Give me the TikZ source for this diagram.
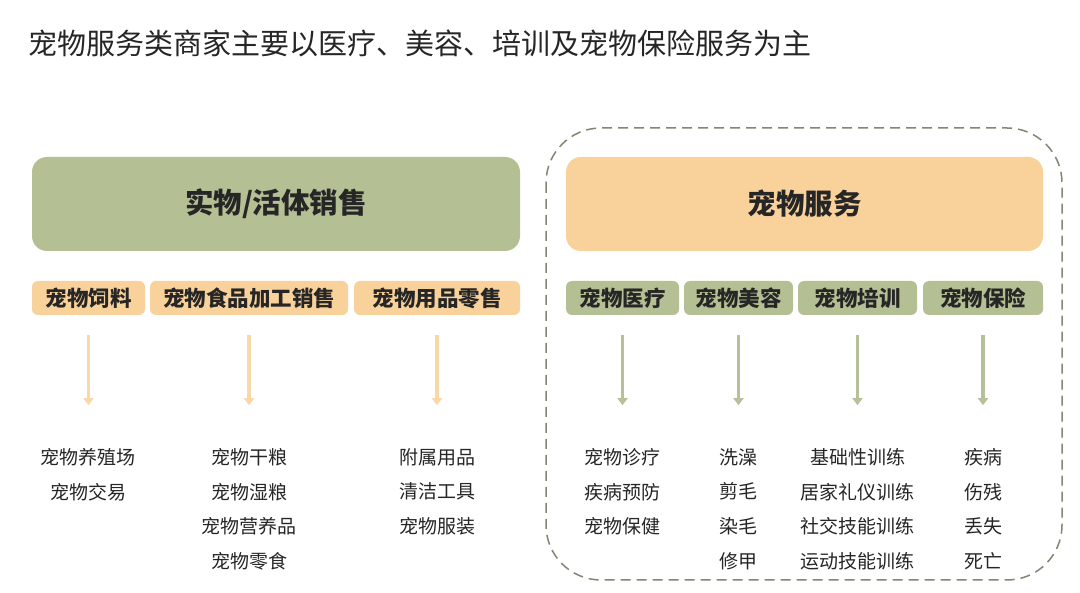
\documentclass[tikz,border=0pt]{standalone}
\usepackage{fontspec}
\setmainfont{Noto Sans CJK SC}
\usepackage{tikz}
\usepackage{xcolor}
\usetikzlibrary{arrows.meta,positioning}
\definecolor{Ink}{HTML}{262626}
\definecolor{Sage}{HTML}{B4C094}
\definecolor{Peach}{HTML}{F9D19B}
\definecolor{SageLine}{HTML}{B6C19A}
\definecolor{PeachLine}{HTML}{F8D8A9}
\definecolor{Frame}{HTML}{858574}
\tikzset{
  bigbox/.style={rounded corners=15pt,minimum height=94pt,align=center,font=\fontsize{28.5pt}{32pt}\selectfont\bfseries,text=Ink,inner sep=0pt},
  catbox/.style={rounded corners=6pt,minimum height=34pt,align=center,font=\fontsize{21.5pt}{24pt}\selectfont\bfseries,text=Ink,inner sep=0pt},
  items/.style={align=center,inner sep=0pt,font=\fontsize{19pt}{34.6pt}\selectfont,text=Ink},
  arrO/.style={-{Triangle[length=7pt,width=10pt]},draw=PeachLine,line width=3.5pt,shorten <=20pt,shorten >=43pt},
  arrG/.style={-{Triangle[length=7pt,width=10pt]},draw=SageLine,line width=3.5pt,shorten <=20pt,shorten >=43pt}
}

\begin{document}
\begin{tikzpicture}[x=1pt,y=-1pt]
  \useasboundingbox[fill=white] (0,0) rectangle (1080,593);
  \node[anchor=west,font=\fontsize{29pt}{32pt}\selectfont,text=Ink,inner sep=0pt] (title) at (28,43) {宠物服务类商家主要以医疗、美容、培训及宠物保险服务为主};

  % dashed frame round the services
  \draw[Frame,line width=1.5pt,dash pattern=on 10pt off 6pt,rounded corners=55pt] (546,128) rectangle (1062,580);

  \node[bigbox,fill=Sage,minimum width=488pt] (goods) at (276,204) {实物/活体销售};
  \node[bigbox,fill=Peach,minimum width=477pt] (service) at (804.5,204) {宠物服务};

  \node[catbox,fill=Peach,minimum width=113pt] (feed) at (88.5,298) {宠物饲料};
  \node[catbox,fill=Peach,minimum width=198pt] (food) at (249,298) {宠物食品加工销售};
  \node[catbox,fill=Peach,minimum width=166pt] (supply) at (437,298) {宠物用品零售};
  \node[catbox,fill=Sage,minimum width=113pt] (medical) at (622.5,298) {宠物医疗};
  \node[catbox,fill=Sage,minimum width=109pt] (beauty) at (738.5,298) {宠物美容};
  \node[catbox,fill=Sage,minimum width=119pt] (train) at (857.5,298) {宠物培训};
  \node[catbox,fill=Sage,minimum width=120pt] (insure) at (983,298) {宠物保险};

  \node[items,below=133pt of feed] (feedlist) {宠物养殖场\\宠物交易};
  \node[items,below=133pt of food] (foodlist) {宠物干粮\\宠物湿粮\\宠物营养品\\宠物零食};
  \node[items,below=133pt of supply] (supplylist) {附属用品\\清洁工具\\宠物服装};
  \node[items,below=133pt of medical] (medicallist) {宠物诊疗\\疾病预防\\宠物保健};
  \node[items,below=133pt of beauty] (beautylist) {洗澡\\剪毛\\染毛\\修甲};
  \node[items,below=133pt of train] (trainlist) {基础性训练\\居家礼仪训练\\社交技能训练\\运动技能训练};
  \node[items,below=133pt of insure] (insurelist) {疾病\\伤残\\丢失\\死亡};

  \draw[arrO] (feed.south) -- (feedlist.north);
  \draw[arrO] (food.south) -- (foodlist.north);
  \draw[arrO] (supply.south) -- (supplylist.north);
  \draw[arrG] (medical.south) -- (medicallist.north);
  \draw[arrG] (beauty.south) -- (beautylist.north);
  \draw[arrG] (train.south) -- (trainlist.north);
  \draw[arrG] (insure.south) -- (insurelist.north);
\end{tikzpicture}
\end{document}
